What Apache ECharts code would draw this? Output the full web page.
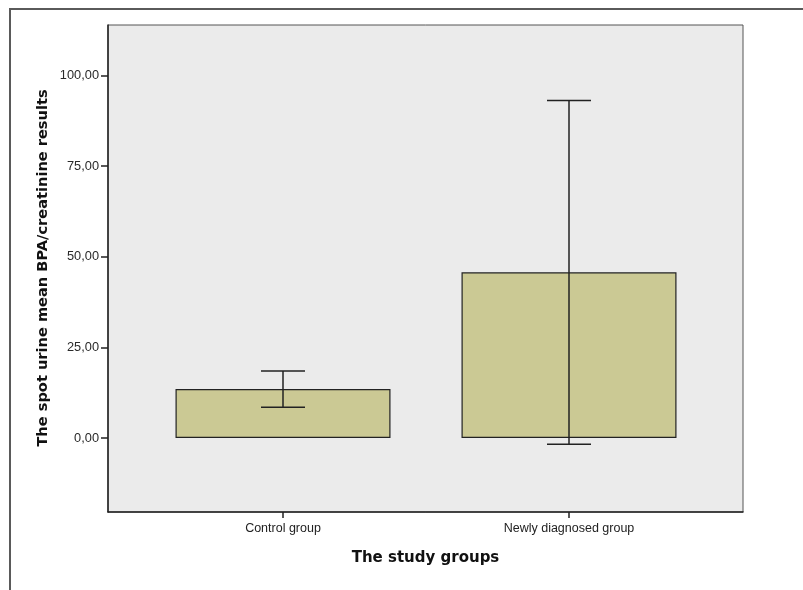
<!DOCTYPE html>
<html>
<head>
<meta charset="utf-8">
<script src="https://cdn.jsdelivr.net/npm/echarts@6/dist/echarts.min.js"></script>
<style>html,body{margin:0;padding:0;background:#fff}#c{width:803px;height:590px}</style>
</head>
<body>
<div id="c"></div>
<script>
const categories = ['Control group', 'Newly diagnosed group'];
const means = [13.5, 45.7];
const ciLow = [8.5, -1.7];
const ciHigh = [18.5, 93.1];
const yTicks = [0, 25, 50, 75, 100];
const yMin = -20.4;
const yMax = 113.9;

const chart = echarts.init(document.getElementById('c'), null, {renderer: 'canvas'});
const labelFont = 'Liberation Sans, Arial, sans-serif';
const titleFont = 'DejaVu Sans, Verdana, sans-serif';

chart.setOption({
  animation: false,
  backgroundColor: '#ffffff',
  graphic: [{
    type: 'rect', z: -10, silent: true,
    shape: {x: 10, y: 9, width: 900, height: 700},
    style: {fill: 'none', stroke: '#5a5a5a', lineWidth: 2}
  }, {
    type: 'text', x: 43, y: 268, rotation: Math.PI / 2,
    style: {text: 'The spot urine mean BPA/creatinine results', font: 'bold 14.6px ' + titleFont, fill: '#111',
      align: 'center', verticalAlign: 'middle'}
  }],
  grid: [
    {left: 108, right: 60, top: 25, bottom: 78, show: true, backgroundColor: '#ebebeb', borderColor: '#555', borderWidth: 1},
    {left: 140, right: 91, top: 25, bottom: 78, show: false}
  ],
  xAxis: [
    {type: 'value', gridIndex: 0, min: 0, max: 1, show: true,
     axisLine: {show: true, onZero: false, lineStyle: {color: '#222', width: 1.5}},
     axisTick: {show: false}, axisLabel: {show: false}, splitLine: {show: false},
     name: 'The study groups', nameLocation: 'middle', nameGap: 39,
     nameTextStyle: {fontFamily: titleFont, fontWeight: 'bold', fontSize: 15, color: '#111'}},
    {type: 'category', gridIndex: 1, data: categories,
     axisLine: {show: false, onZero: false},
     axisTick: {show: true, alignWithLabel: true, length: 6, lineStyle: {color: '#222', width: 1.5}},
     axisLabel: {fontFamily: labelFont, fontSize: 12.5, color: '#222', margin: 10},
     splitLine: {show: false}}
  ],
  yAxis: [
    {type: 'value', gridIndex: 0, min: yMin, max: yMax,
     axisLine: {show: true, onZero: false, lineStyle: {color: '#222', width: 1.5}},
     axisTick: {show: true, length: 7, customValues: yTicks, lineStyle: {color: '#222', width: 1.5}},
     axisLabel: {customValues: yTicks, fontFamily: labelFont, fontSize: 12.8, color: '#2a2a2a', margin: 9,
       formatter: v => v.toFixed(2).replace('.', ',')},
     splitLine: {show: false}},
    {type: 'value', gridIndex: 1, min: yMin, max: yMax, show: false, splitLine: {show: false}}
  ],
  series: [
    {type: 'bar', xAxisIndex: 1, yAxisIndex: 1, data: means, barWidth: 215,
     itemStyle: {color: '#cbc994', borderColor: '#222', borderWidth: 1.2}},
    {type: 'custom', xAxisIndex: 1, yAxisIndex: 1, z: 5,
     data: categories.map((c, i) => [i, ciLow[i], ciHigh[i]]),
     renderItem: function (params, api) {
       const x = api.value(0);
       const lo = api.coord([x, api.value(1)]);
       const hi = api.coord([x, api.value(2)]);
       const hw = 22;
       const st = {stroke: '#222', lineWidth: 1.5};
       return {type: 'group', children: [
         {type: 'line', shape: {x1: hi[0], y1: hi[1], x2: lo[0], y2: lo[1]}, style: st},
         {type: 'line', shape: {x1: hi[0] - hw, y1: hi[1], x2: hi[0] + hw, y2: hi[1]}, style: st},
         {type: 'line', shape: {x1: lo[0] - hw, y1: lo[1], x2: lo[0] + hw, y2: lo[1]}, style: st}
       ]};
     }}
  ]
});
</script>
</body>
</html>
